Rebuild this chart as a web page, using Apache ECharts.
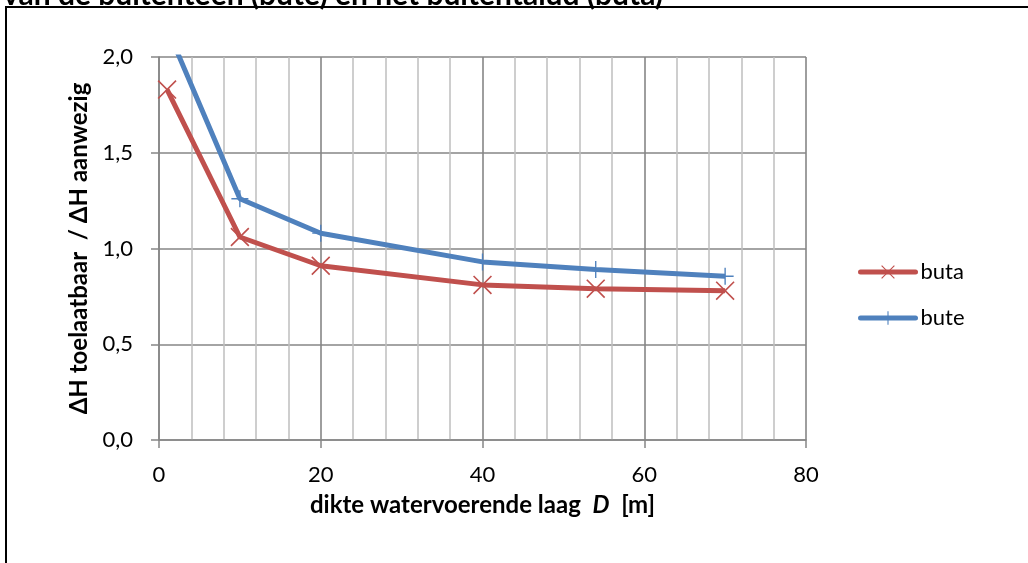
<!DOCTYPE html>
<html>
<head>
<meta charset="utf-8">
<script src="https://cdn.jsdelivr.net/npm/echarts@6/dist/echarts.min.js"></script>
<style>
  html, body { margin: 0; padding: 0; background: #fff; }
  #chart { width: 1028px; height: 563px; }
</style>
</head>
<body>
<div id="chart"></div>
<script>
// Layer thickness D [m]
const thicknessButa = [1, 10, 20, 40, 54, 70];
const thicknessBute = [1, 10, 20, 40, 54, 70];
// Ratio ΔH allowable / ΔH present
const ratioButa = [1.83, 1.06, 0.91, 0.81, 0.79, 0.78];
const ratioBute = [2.15, 1.26, 1.08, 0.93, 0.89, 0.855];

const seriesNames = ['buta', 'bute'];
const titleText = 'van de buitenteen (bute) en het buitentalud (buta)';
const xAxisTitle = 'dikte watervoerende laag';
const xAxisSymbol = 'D';
const xAxisUnit = '[m]';
const yAxisTitle = 'ΔH toelaatbaar  / ΔH aanwezig';

const FONT = 'Lato, "Open Sans", sans-serif';
const RED = '#C0504D';
const BLUE = '#4F81BD';

// Marker shapes: a diagonal cross and an upright plus
const crossPath = 'path://M0,1.2L1.2,0L20,18.8L18.8,20Z M18.8,0L20,1.2L1.2,20L0,18.8Z';
const plusPath = 'path://M9.2,0L10.8,0L10.8,20L9.2,20Z M0,9.2L20,9.2L20,10.8L0,10.8Z';

const zip = (xs, ys) => xs.map((x, i) => [x, ys[i]]);

const chart = echarts.init(document.getElementById('chart'), null, { renderer: 'canvas' });

chart.setOption({
  backgroundColor: '#fff',
  animation: false,
  graphic: [
    {
      type: 'text',
      x: 3,
      y: -5,
      style: {
        text: titleText,
        font: 'bold 30px ' + FONT,
        fill: '#000',
        verticalAlign: 'middle'
      }
    },
    {
      type: 'rect',
      shape: { x: 6, y: 7, width: 1200, height: 800 },
      style: { fill: 'none', stroke: '#000', lineWidth: 2 },
      silent: true
    }
  ],
  legend: {
    orient: 'vertical',
    left: 853,
    top: 256,
    itemWidth: 55,
    itemHeight: 17,
    itemGap: 24,
    data: seriesNames,
    lineStyle: { width: 5, cap: 'round' },
    textStyle: { fontFamily: FONT, fontSize: 22, color: '#000' }
  },
  grid: { left: 159, top: 57, right: 222, bottom: 123, containLabel: false },
  xAxis: {
    type: 'value',
    min: 0,
    max: 80,
    interval: 20,
    axisLine: { show: true, lineStyle: { color: '#868686', width: 1.5 } },
    axisTick: { show: true, length: 8, lineStyle: { color: '#868686', width: 1.5 } },
    minorTick: { show: false, splitNumber: 5 },
    splitLine: { show: true, lineStyle: { color: '#868686', width: 1.6 } },
    minorSplitLine: { show: true, lineStyle: { color: '#BEBEBE', width: 1.5 } },
    axisLabel: { margin: 24, fontFamily: FONT, fontSize: 22, color: '#000' },
    name: '{b|' + xAxisTitle + '  }{i|' + xAxisSymbol + '}{b|  ' + xAxisUnit + '}',
    nameLocation: 'middle',
    nameGap: 53,
    nameTextStyle: {
      rich: {
        b: { fontFamily: FONT, fontSize: 24, fontWeight: 'bold', color: '#000' },
        i: { fontFamily: FONT, fontSize: 24, fontWeight: 'bold', fontStyle: 'italic', color: '#000' }
      }
    }
  },
  yAxis: {
    type: 'value',
    min: 0,
    max: 2,
    interval: 0.5,
    axisLine: { show: true, lineStyle: { color: '#868686', width: 1.5 } },
    axisTick: { show: true, length: 8, lineStyle: { color: '#868686', width: 1.5 } },
    splitLine: { show: true, lineStyle: { color: '#868686', width: 1.6 } },
    axisLabel: {
      margin: 26,
      fontFamily: FONT,
      fontSize: 22,
      color: '#000',
      formatter: v => v.toFixed(1).replace('.', ',')
    },
    name: yAxisTitle,
    nameLocation: 'middle',
    nameGap: 68,
    nameTextStyle: { fontFamily: FONT, fontSize: 24, fontWeight: 'bold', color: '#000' }
  },
  series: [
    {
      name: seriesNames[0],
      type: 'line',
      data: zip(thicknessButa, ratioButa),
      clip: true,
      symbol: crossPath,
      symbolSize: 19,
      lineStyle: { color: RED, width: 5 },
      itemStyle: { color: RED, borderWidth: 0 },
      z: 3
    },
    {
      name: seriesNames[1],
      type: 'line',
      data: zip(thicknessBute, ratioBute),
      clip: true,
      symbol: plusPath,
      symbolSize: 17,
      lineStyle: { color: BLUE, width: 5 },
      itemStyle: { color: BLUE, borderWidth: 0 },
      z: 4
    }
  ]
});
</script>
</body>
</html>
